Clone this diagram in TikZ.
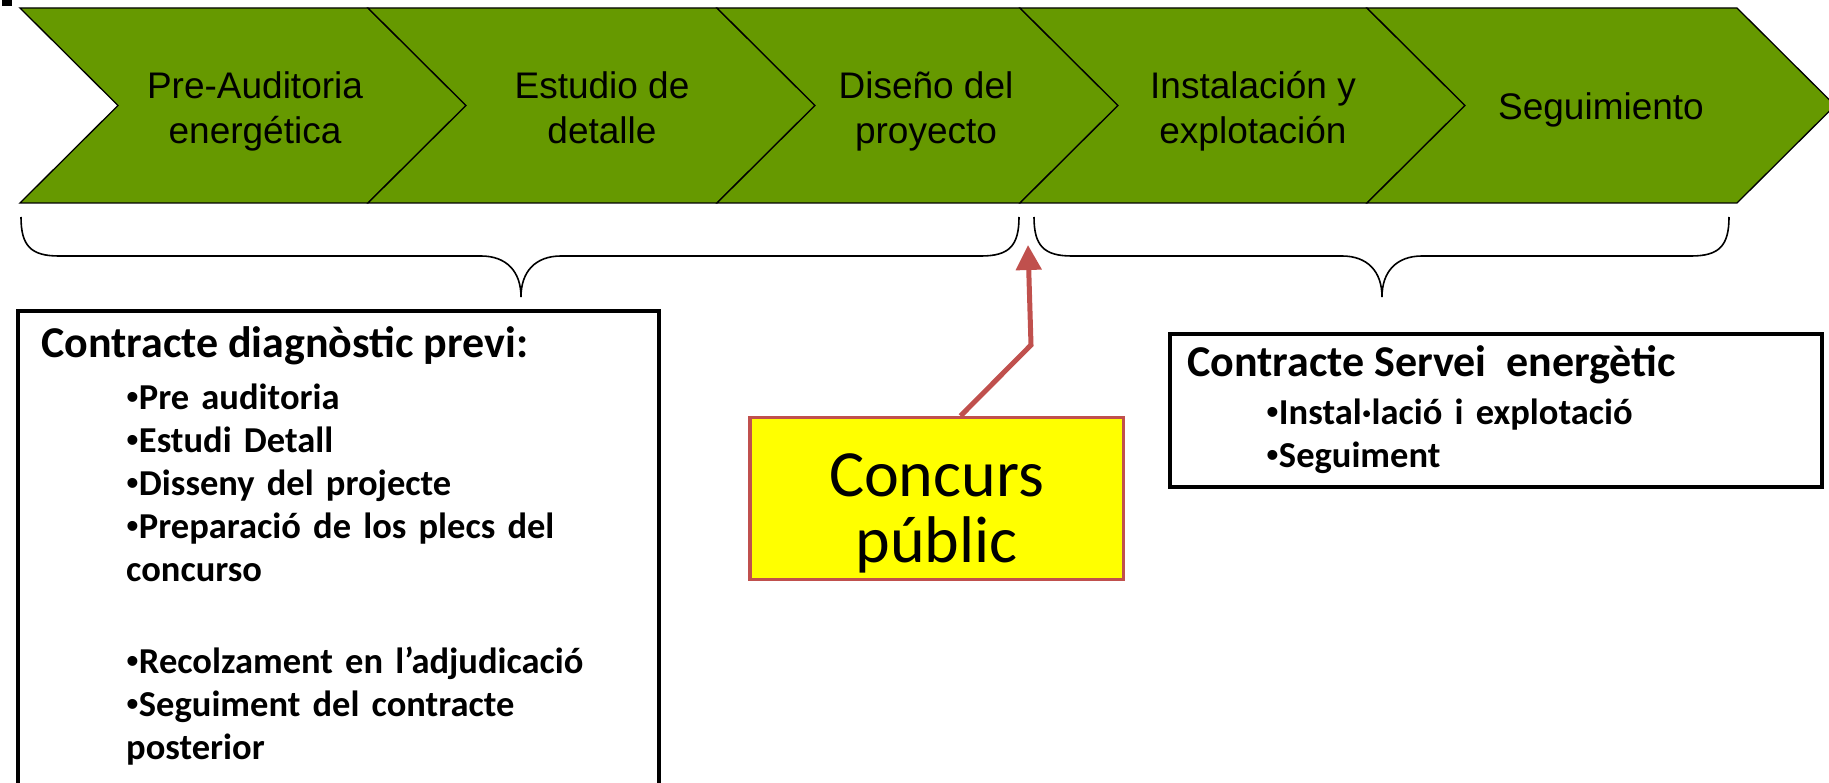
\documentclass[tikz,border=0pt]{standalone}
\usepackage{fontspec}
\setmainfont{Carlito}
\newfontfamily\chevfont{Liberation Sans}
\usetikzlibrary{arrows.meta,positioning}
\definecolor{chevgreen}{HTML}{669900}
\definecolor{concred}{HTML}{C0504D}
\definecolor{concyellow}{HTML}{FFFF00}
\newcommand{\blt}{{\chevfont\mdseries •}}
\tikzset{
    chevron/.style={draw=black, fill=chevgreen, line width=1.3pt},
    chevtext/.style={font=\chevfont\fontsize{37}{45}\selectfont, align=center, inner sep=0pt, anchor=north},
    bracepath/.style={draw=black, line width=1.6pt},
    infobox/.style={rectangle, draw=black, line width=4pt, inner sep=0pt, anchor=north west},
    boxtitle/.style={font=\bfseries\fontsize{44}{44}\selectfont, inner sep=0pt, anchor=base west},
    boxitems/.style={font=\bfseries\fontsize{36.5}{43}\selectfont, align=left, inner sep=0pt, text width=520pt},
    concursbox/.style={rectangle, draw=concred, fill=concyellow, line width=3.5pt, inner sep=0pt, minimum width=373.5pt, minimum height=161.5pt, align=center, font=\fontsize{66}{66}\selectfont},
    pil/.style={-{Triangle[length=25pt,width=25pt]}, draw=concred, line width=5pt}
}
\begin{document}
\begin{tikzpicture}[x=1pt, y=-1pt]
    \useasboundingbox (0,0) rectangle (1829,783);
    \fill (2,0) rectangle (12,6);
    % fases
    \draw[chevron] (20,8) -- (368,8) -- (466,105.5) -- (368,203) -- (20,203) -- (118,105.5) -- cycle;
    \draw[chevron] (368,8) -- (717,8) -- (815,105.5) -- (717,203) -- (368,203) -- (466,105.5) -- cycle;
    \draw[chevron] (717,8) -- (1020,8) -- (1118,105.5) -- (1020,203) -- (717,203) -- (815,105.5) -- cycle;
    \draw[chevron] (1020,8) -- (1367,8) -- (1465,105.5) -- (1367,203) -- (1020,203) -- (1118,105.5) -- cycle;
    \draw[chevron] (1367,8) -- (1737,8) -- (1835,105.5) -- (1737,203) -- (1367,203) -- (1465,105.5) -- cycle;
    \node[chevtext] (preaudit) at (255,71) {Pre-Auditoria\\energética};
    \node[chevtext] (estudio) at (602,71) {Estudio de\\detalle};
    \node[chevtext] (diseno) at (926,71) {Diseño del\\proyecto};
    \node[chevtext] (instal) at (1253,71) {Instalación y\\explotación};
    \node[chevtext, anchor=base] (seguim) at (1601,120) {Seguimiento};
    % claus
    \draw[bracepath] (21,217) .. controls (21,246) and (31,256) .. (59,256) -- (481,256)
      .. controls (506,256) and (521,271) .. (521,297) .. controls (521,271) and (536,256) .. (561,256)
      -- (981,256) .. controls (1009,256) and (1019,246) .. (1019,217);
    \draw[bracepath] (1034,217) .. controls (1034,246) and (1044,256) .. (1072,256) -- (1342,256)
      .. controls (1367,256) and (1382,271) .. (1382,297) .. controls (1382,271) and (1397,256) .. (1422,256)
      -- (1691,256) .. controls (1719,256) and (1729,246) .. (1729,217);
    % contracte previ
    \node[infobox, minimum width=641pt, minimum height=520pt] (prevbox) at (16,309) {};
    \node[boxtitle] (prevtitle) at (41,358) {Contracte diagnòstic previ:};
    \node[boxitems, below right=26pt and 85pt of prevtitle.base west] (previtems)
      {\blt Pre auditoria\\\blt Estudi Detall\\\blt Disseny del projecte\\\blt Preparació de los plecs del\\concurso\\[49pt]%
       \blt Recolzament en l’adjudicació\\\blt Seguiment del contracte\\posterior};
    % contracte servei
    \node[infobox, minimum width=652pt, minimum height=153pt] (servbox) at (1168,332) {};
    \node[boxtitle] (servtitle) at (1187,377) {Contracte Servei\ \ energètic};
    \node[boxitems, below right=22pt and 79pt of servtitle.base west] (servitems)
      {\blt Instal·lació i explotació\\\blt Seguiment};
    % concurs
    \node[concursbox] (concurs) at (936.5,498.5) {\rule{0pt}{72pt}Concurs\\públic};
    \coordinate (bend) at (1031,345);
    \coordinate (gapmark) at (1028,245);
    \draw[pil] ([xshift=24pt]concurs.north) -- (bend) -- (gapmark);
\end{tikzpicture}
\end{document}
